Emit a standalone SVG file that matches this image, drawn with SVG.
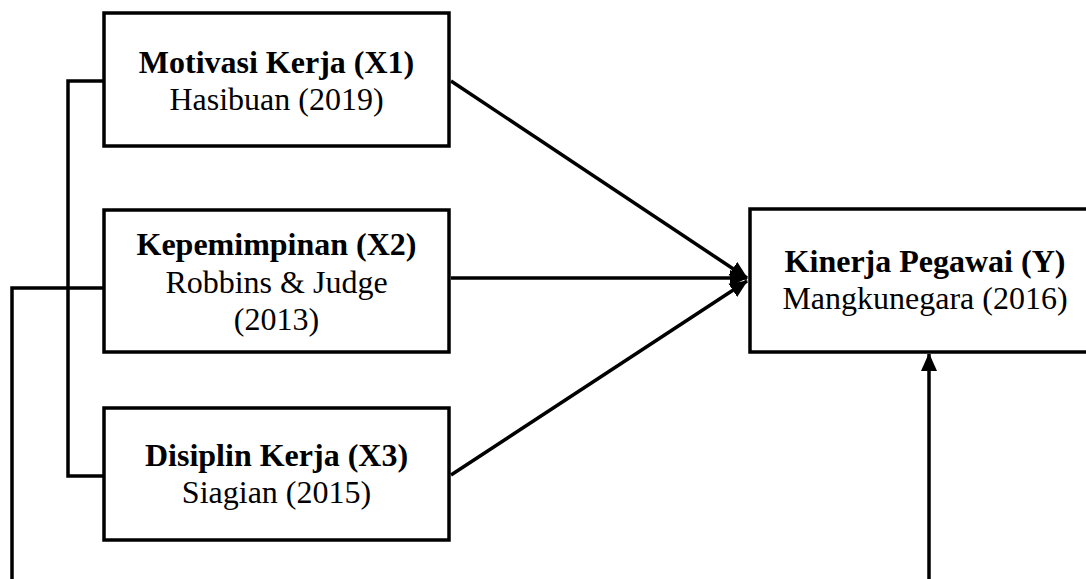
<svg xmlns="http://www.w3.org/2000/svg" width="1086" height="579" viewBox="0 0 1086 579">
<style>
.box{fill:#fff;stroke:#000;stroke-width:3.5}
.ln{fill:none;stroke:#000;stroke-width:3.5}
.t{font-family:"Liberation Serif","Times New Roman",serif;font-size:32px;text-anchor:middle;fill:#000}
.b{font-weight:bold}
</style>
<defs>
<marker id="ah" markerUnits="userSpaceOnUse" markerWidth="18" markerHeight="18" viewBox="0 0 18 18" refX="17" refY="9" orient="auto">
<path d="M0,1 L18,9 L0,17 Z" fill="#000"/>
</marker>
</defs>
<g id="connectors">
<polyline class="ln" points="104,81 68,81 68,476 104,476"/>
<polyline class="ln" points="104,288 12,288 12,579"/>
<line class="ln" x1="451" y1="81" x2="747" y2="278" marker-end="url(#ah)"/>
<line class="ln" x1="451" y1="278" x2="747" y2="278" marker-end="url(#ah)"/>
<line class="ln" x1="451" y1="475" x2="747" y2="281" marker-end="url(#ah)"/>
<line class="ln" x1="929" y1="579" x2="929" y2="354" marker-end="url(#ah)"/>
</g>
<g id="x1">
<rect class="box" x="104" y="13" width="345" height="133"/>
<text class="t b" x="276.5" y="73">Motivasi Kerja (X1)</text>
<text class="t" x="276.5" y="110">Hasibuan (2019)</text>
</g>
<g id="x2">
<rect class="box" x="104" y="210" width="345" height="142"/>
<text class="t b" x="276.5" y="255">Kepemimpinan (X2)</text>
<text class="t" x="276.5" y="293">Robbins &amp; Judge</text>
<text class="t" x="276.5" y="330">(2013)</text>
</g>
<g id="x3">
<rect class="box" x="104" y="408" width="345" height="132"/>
<text class="t b" x="276.5" y="466">Disiplin Kerja (X3)</text>
<text class="t" x="276.5" y="503">Siagian (2015)</text>
</g>
<g id="y">
<rect class="box" x="750" y="209" width="350" height="143"/>
<text class="t b" x="925" y="272">Kinerja Pegawai (Y)</text>
<text class="t" x="925" y="309">Mangkunegara (2016)</text>
</g>
</svg>
